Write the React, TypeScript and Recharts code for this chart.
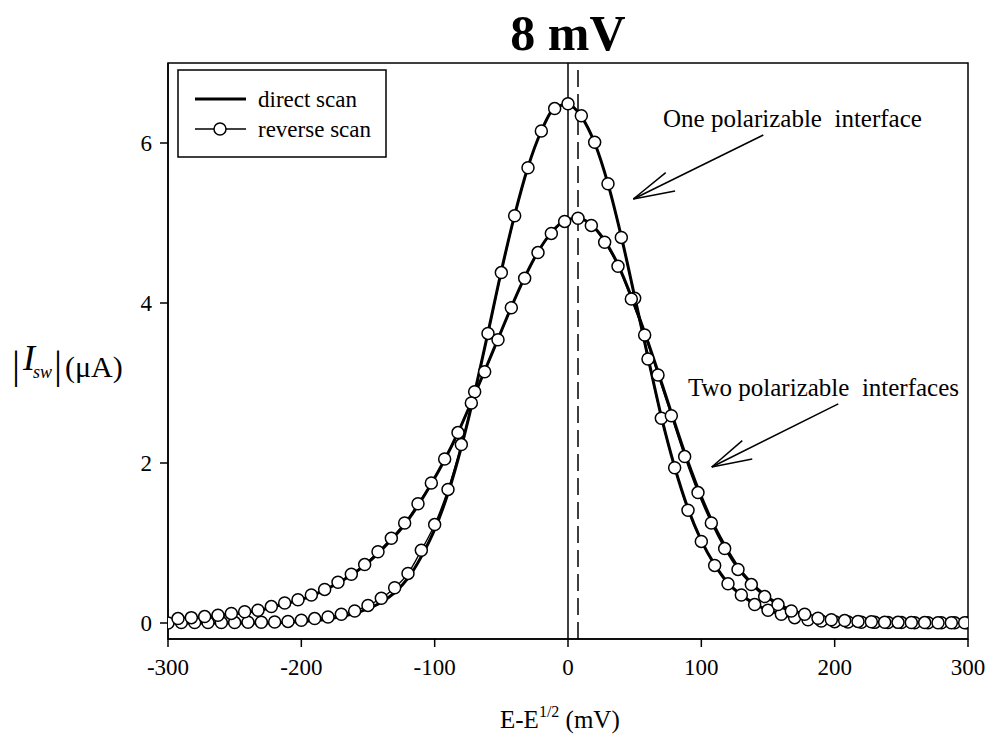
import {
  ComposedChart,
  Line,
  XAxis,
  YAxis,
  ReferenceLine,
  ReferenceArea,
} from "recharts"

// potentials (mV) of the one-interface points and of the two-interface points
const xOne = [
  -300, -290, -280, -270, -260, -250, -240, -230, -220, -210, -200, -190, -180, -170, -160, -150,
  -140, -130, -120, -110, -100, -90, -80, -70, -60, -50, -40, -30, -20, -10, 0, 10, 20, 30, 40, 50,
  60, 70, 80, 90, 100, 110, 120, 130, 140, 150, 160, 170, 180, 190, 200, 210, 220, 230, 240, 250,
  260, 270, 280, 290, 300,
]
const xTwo = [
  -292.5, -282.5, -272.5, -262.5, -252.5, -242.5, -232.5, -222.5, -212.5, -202.5, -192.5, -182.5,
  -172.5, -162.5, -152.5, -142.5, -132.5, -122.5, -112.5, -102.5, -92.5, -82.5, -72.5, -62.5, -52.5,
  -42.5, -32.5, -22.5, -12.5, -2.5, 7.5, 17.5, 27.5, 37.5, 47.5, 57.5, 67.5, 77.5, 87.5, 97.5, 107.5,
  117.5, 127.5, 137.5, 147.5, 157.5, 167.5, 177.5, 187.5, 197.5, 207.5, 217.5, 227.5, 237.5, 247.5,
  257.5, 267.5, 277.5, 287.5, 297.5,
]

// |Isw| in uA
const oneReverse = [
  0.0, 0.005, 0.005, 0.005, 0.005, 0.005, 0.01, 0.01, 0.013, 0.02, 0.034, 0.055, 0.075, 0.11, 0.15,
  0.22, 0.31, 0.44, 0.62, 0.91, 1.23, 1.67, 2.23, 2.89, 3.62, 4.38, 5.09, 5.69, 6.15, 6.43, 6.49,
  6.34, 6.01, 5.49, 4.82, 4.06, 3.3, 2.56, 1.94, 1.41, 1.02, 0.72, 0.49, 0.35, 0.23, 0.16, 0.11,
  0.067, 0.04, 0.025, 0.017, 0.012, 0.01, 0.008, 0.006, 0.005, 0.004, 0.003, 0.003, 0.002, 0.002,
]
const oneDirect = [
  0.0, 0.0, 0.0, 0.0, 0.0, 0.0, 0.0, 0.0, 0.005, 0.01, 0.02, 0.03, 0.05, 0.08, 0.12, 0.18, 0.26,
  0.38, 0.56, 0.83, 1.17, 1.62, 2.2, 2.88, 3.63, 4.4, 5.1, 5.7, 6.15, 6.44, 6.48, 6.33, 6.0, 5.49,
  4.83, 4.08, 3.32, 2.58, 1.95, 1.43, 1.03, 0.73, 0.5, 0.35, 0.24, 0.16, 0.11, 0.07, 0.045, 0.03,
  0.02, 0.012, 0.01, 0.008, 0.006, 0.005, 0.004, 0.003, 0.003, 0.002, 0.002,
]
const twoReverse = [
  0.055, 0.067, 0.08, 0.097, 0.12, 0.14, 0.16, 0.205, 0.25, 0.29, 0.35, 0.42, 0.51, 0.61, 0.73,
  0.89, 1.06, 1.25, 1.49, 1.75, 2.05, 2.38, 2.75, 3.14, 3.54, 3.94, 4.31, 4.63, 4.87, 5.02, 5.06,
  4.97, 4.76, 4.46, 4.05, 3.6, 3.1, 2.59, 2.08, 1.63, 1.25, 0.93, 0.67, 0.48, 0.33, 0.23, 0.15, 0.11,
  0.06, 0.04, 0.03, 0.02, 0.015, 0.01, 0.008, 0.006, 0.005, 0.004, 0.003, 0.003,
]
const twoDirect = [
  0.05, 0.06, 0.075, 0.09, 0.11, 0.13, 0.155, 0.195, 0.24, 0.28, 0.34, 0.41, 0.5, 0.6, 0.72, 0.87,
  1.04, 1.23, 1.47, 1.74, 2.04, 2.38, 2.76, 3.15, 3.55, 3.95, 4.32, 4.64, 4.88, 5.03, 5.06, 4.98,
  4.78, 4.48, 4.08, 3.63, 3.14, 2.63, 2.13, 1.68, 1.29, 0.97, 0.7, 0.5, 0.35, 0.24, 0.16, 0.11, 0.07,
  0.045, 0.03, 0.02, 0.015, 0.01, 0.008, 0.006, 0.005, 0.004, 0.003, 0.003,
]

const xTicks = [-300, -200, -100, 0, 100, 200, 300]
const yTicks = [0, 2, 4, 6]

const toPts = (xs: number[], ys: number[]) => xs.map((x, i) => ({ x, y: ys[i] }))

const serif = "'Liberation Serif', 'Times New Roman', serif"
const tickStyle = { fontSize: 23, fontFamily: serif, fill: "#000" }

// arrows, in data coordinates
const arrowOne = { tail: { x: 146.5, y: 6.1 }, tip: { x: 49, y: 5.3 }, a: { x: 73.3, y: 5.63 }, b: { x: 80.3, y: 5.4 } }
const arrowTwo = { tail: { x: 202.7, y: 2.74 }, tip: { x: 107.8, y: 1.95 }, a: { x: 130.7, y: 2.28 }, b: { x: 138.2, y: 2.05 } }

function Arrow({ a }: { a: typeof arrowOne }) {
  return [
    <ReferenceLine key="s" segment={[a.tail, a.tip]} stroke="#000" strokeWidth={1.5} ifOverflow="visible" />,
    <ReferenceLine key="a" segment={[a.a, a.tip]} stroke="#000" strokeWidth={1.5} ifOverflow="visible" />,
    <ReferenceLine key="b" segment={[a.b, a.tip]} stroke="#000" strokeWidth={1.5} ifOverflow="visible" />,
  ]
}

export default function App() {
  const dot = { r: 6, fill: "#fff", stroke: "#000", strokeWidth: 1.5 }
  return (
    <div style={{ position: "relative", width: 988, height: 740 }}>
      <style>{`html, body { margin: 0; padding: 0; overflow: hidden; }`}</style>
      <ComposedChart width={988} height={740} margin={{ top: 63, right: 20, bottom: 61, left: 108 }} style={{ overflow: "visible" }}>
        <XAxis
          type="number"
          dataKey="x"
          domain={[-300, 300]}
          ticks={xTicks}
          height={40}
          tickSize={8}
          tickMargin={12}
          tick={tickStyle}
          stroke="#000"
          strokeWidth={1.5}
          allowDataOverflow
        />
        <YAxis
          type="number"
          dataKey="y"
          domain={[-0.2, 7]}
          ticks={yTicks}
          width={60}
          tickSize={8}
          tickMargin={8}
          tick={tickStyle}
          stroke="#000"
          strokeWidth={1.5}
          allowDataOverflow
        />
        <ReferenceArea x1={-300} x2={300} y1={-0.2} y2={7} fill="none" stroke="#000" strokeWidth={1.5} />
        <ReferenceLine x={0} stroke="#000" strokeWidth={1.5} />
        <ReferenceLine x={7.5} stroke="#000" strokeWidth={1.5} strokeDasharray="17 7" />
        {Arrow({ a: arrowOne })}
        {Arrow({ a: arrowTwo })}
        <Line data={toPts(xOne, oneDirect)} dataKey="y" type="monotone" stroke="#000" strokeWidth={3} dot={false} isAnimationActive={false} />
        <Line data={toPts(xTwo, twoDirect)} dataKey="y" type="monotone" stroke="#000" strokeWidth={3} dot={false} isAnimationActive={false} />
        <Line data={toPts(xOne, oneReverse)} dataKey="y" type="monotone" stroke="#000" strokeWidth={1.3} dot={dot} isAnimationActive={false} />
        <Line data={toPts(xTwo, twoReverse)} dataKey="y" type="monotone" stroke="#000" strokeWidth={1.3} dot={dot} isAnimationActive={false} />
      </ComposedChart>

      <svg
        width={988}
        height={740}
        style={{ position: "absolute", left: 0, top: 0, pointerEvents: "none" }}
        fontFamily={serif}
      >
        <text x={568} y={50} textAnchor="middle" fontSize={50} fontWeight="bold">8 mV</text>

        {/* legend */}
        <rect x={178} y={70} width={208} height={87} fill="#fff" stroke="#000" strokeWidth={1.5} />
        <line x1={195} x2={246} y1={99} y2={99} stroke="#000" strokeWidth={3} />
        <text x={258} y={107} fontSize={23}>direct scan</text>
        <line x1={195} x2={246} y1={129} y2={129} stroke="#000" strokeWidth={1.3} />
        <circle cx={220} cy={129} r={6} fill="#fff" stroke="#000" strokeWidth={1.5} />
        <text x={258} y={137} fontSize={23}>reverse scan</text>

        <text x={663} y={127} fontSize={25} style={{ whiteSpace: "pre" }}>One polarizable  interface</text>
        <text x={688} y={396} fontSize={25} style={{ whiteSpace: "pre" }}>Two polarizable  interfaces</text>

        {/* y label */}
        <text x={12} y={378} fontSize={40}>|</text>
        <text x={23} y={370} fontSize={36} fontStyle="italic">I</text>
        <text x={33} y={378} fontSize={18} fontStyle="italic">sw</text>
        <text x={54} y={378} fontSize={40}>|</text>
        <text x={65} y={377} fontSize={30}>(μA)</text>

        {/* x label */}
        <text x={500} y={728} fontSize={25}>
          E-E<tspan fontSize={16} dy={-11}>1/2</tspan>
          <tspan dy={11}> (mV)</tspan>
        </text>
      </svg>
    </div>
  )
}
